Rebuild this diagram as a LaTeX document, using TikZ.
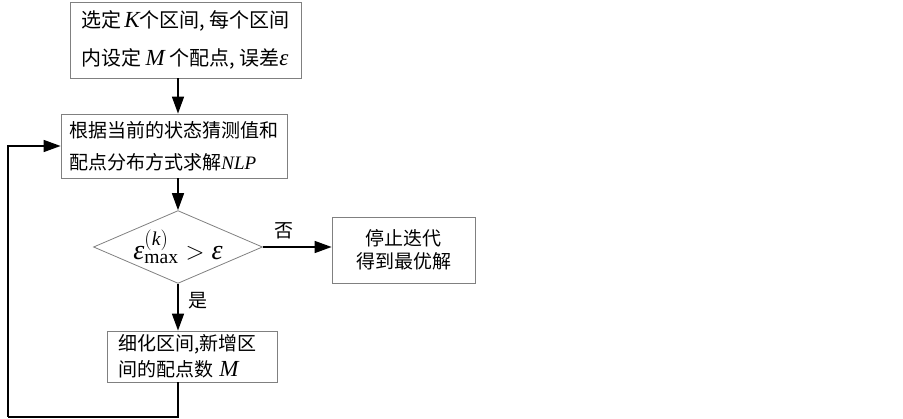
\documentclass[tikz,border=0pt]{standalone}
\usepackage{amsmath}
\usepackage{fontspec}
\setmainfont{Liberation Serif}
\newfontfamily\cjk{Noto Sans CJK SC}
\usepackage{tikz}
\usetikzlibrary{shapes.geometric,arrows.meta}
\newcommand{\mvar}[1]{{\rmfamily\itshape #1}}
\newcommand{\bigvar}[1]{{\rmfamily\itshape\fontsize{23}{23}\selectfont #1}}

\begin{document}
\begin{tikzpicture}[x=1pt, y=-1pt,
    box/.style={draw=gray, line width=0.8pt, rectangle, inner sep=0pt},
    flow/.style={line width=1.5pt, -{Triangle[length=17pt,width=12pt]}},
    link/.style={line width=1.5pt}]
    \useasboundingbox (0,0) rectangle (903,419);

    \node[box, minimum width=231pt, minimum height=76pt, align=left,
          font=\cjk\fontsize{20}{38}\selectfont]                      (sel)  at (185.5, 40)
          {选定\,\bigvar{K}个区间, 每个区间\\内设定 \bigvar{M} 个配点, 误差\bigvar{ε}};
    \node[box, minimum width=226pt, minimum height=64pt, align=left,
          font=\cjk\fontsize{19}{32}\selectfont]                      (nlp)  at (174, 146)
          {根据当前的状态猜测值和\\配点分布方式求解\mvar{NLP}};
    \node[diamond, draw=gray, line width=0.8pt, minimum width=169pt, minimum height=72pt,
          inner sep=0pt, aspect=2.3, font=\rmfamily\fontsize{28}{30}\selectfont] (dec) at (178, 247)
          {$\text{\mvar{ε}}^{(\text{\mvar{k}})}_{\text{max}} > \text{\mvar{ε}}$};
    \node[box, minimum width=143pt, minimum height=66pt, align=center,
          font=\cjk\fontsize{19}{23}\selectfont]                      (stop) at (403.5, 250)
          {停止迭代\\得到最优解};
    \node[box, minimum width=170pt, minimum height=51pt, inner xsep=11pt, text width=148pt,
          align=left, font=\cjk\fontsize{19}{26}\selectfont]          (ref)  at (192, 356.5)
          {细化区间,新增区\\间的配点数 \bigvar{M}};

    \coordinate (lp) at (8, 417);

    \draw[flow] (sel.south -| dec.north) -- (nlp.north -| dec.north);
    \draw[flow] (nlp.south -| dec.north) -- (dec.north);
    \draw[flow] (dec.east) -- (dec.east -| stop.west)
        node[above, pos=0.3, yshift=4pt, font=\cjk\fontsize{19}{23}\selectfont] (no) {否};
    \draw[flow] (dec.south) -- (dec.south |- ref.north)
        node[right, pos=0.35, xshift=6pt, font=\cjk\fontsize{19}{23}\selectfont] (yes) {是};
    \draw[link] (ref.south -| dec.south) |- (lp);
    \draw[flow] (lp) |- (nlp.west);
\end{tikzpicture}
\end{document}
